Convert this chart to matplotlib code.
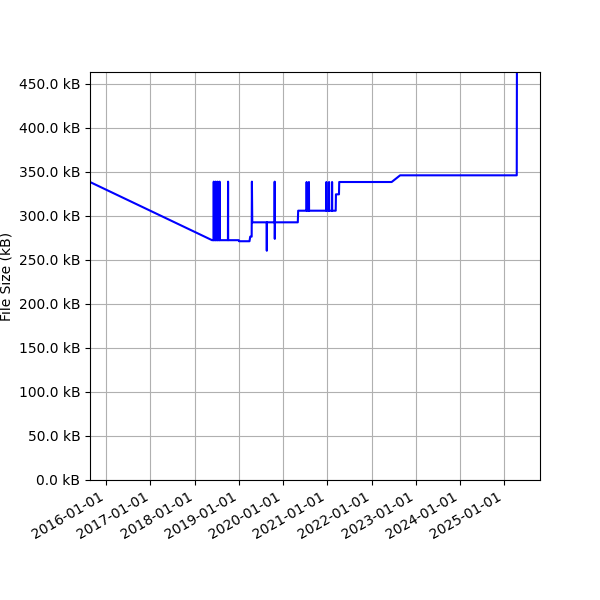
import matplotlib
matplotlib.use("Agg")
import matplotlib.pyplot as plt
import matplotlib.dates as mdates
from matplotlib.ticker import FuncFormatter, MultipleLocator
import pandas as pd

dates = [
    "2015-08-21", "2018-05-25",
    "2018-06-07", "2018-06-08", "2018-06-09",
    "2018-06-23", "2018-06-24", "2018-06-25",
    "2018-07-09", "2018-07-10", "2018-07-11",
    "2018-07-25", "2018-07-26", "2018-07-27",
    "2018-10-03", "2018-10-04", "2018-10-05",
    "2019-01-01", "2019-01-03", "2019-03-30", "2019-04-05",
    "2019-04-17", "2019-04-19", "2019-04-22",
    "2019-08-19", "2019-08-20", "2019-08-21",
    "2019-10-23", "2019-10-24", "2019-10-25", "2019-10-26",
    "2020-05-02", "2020-05-05",
    "2020-07-13", "2020-07-14", "2020-07-15",
    "2020-08-01", "2020-08-02", "2020-08-03",
    "2020-12-23", "2020-12-24", "2020-12-25",
    "2021-01-14", "2021-01-15", "2021-01-16",
    "2021-02-08", "2021-02-09", "2021-02-10",
    "2021-03-11", "2021-03-13", "2021-04-07", "2021-04-09",
    "2022-06-16", "2022-08-25",
    "2025-04-14", "2025-04-16",
]
sizes_kb = [
    338.6, 272.5,
    272.5, 339.0, 272.5,
    272.5, 339.0, 272.5,
    272.5, 339.0, 272.5,
    272.5, 339.0, 272.5,
    272.5, 339.0, 272.5,
    272.5, 271.3, 271.3, 276.5,
    276.5, 339.0, 292.8,
    292.8, 260.5, 292.8,
    292.8, 339.0, 274.0, 292.8,
    292.8, 306.0,
    306.0, 338.6, 306.0,
    306.0, 338.6, 306.0,
    306.0, 338.6, 306.0,
    306.0, 338.6, 306.0,
    306.0, 338.6, 306.0,
    306.0, 324.6, 324.6, 338.6,
    338.6, 346.2,
    346.2, 520.0,
]

dates = pd.to_datetime(dates)

fig, ax = plt.subplots(figsize=(6, 6), dpi=100)
ax.plot(dates, sizes_kb, color="blue", linewidth=1.5)

ax.set_ylabel("File Size (kB)")
ax.yaxis.set_major_locator(MultipleLocator(50))
ax.yaxis.set_major_formatter(FuncFormatter(lambda v, pos: f"{v:.1f} kB"))
ax.set_ylim(0, 463.6)
ax.set_xlim(pd.Timestamp("2015-08-21"), pd.Timestamp("2025-10-23"))
ax.xaxis.set_major_locator(mdates.YearLocator())
ax.xaxis.set_major_formatter(mdates.DateFormatter("%Y-%m-%d"))
ax.grid(True)

fig.autofmt_xdate()
plt.subplots_adjust(left=0.15, right=0.9, top=0.88, bottom=0.2)
plt.savefig("out.png")
